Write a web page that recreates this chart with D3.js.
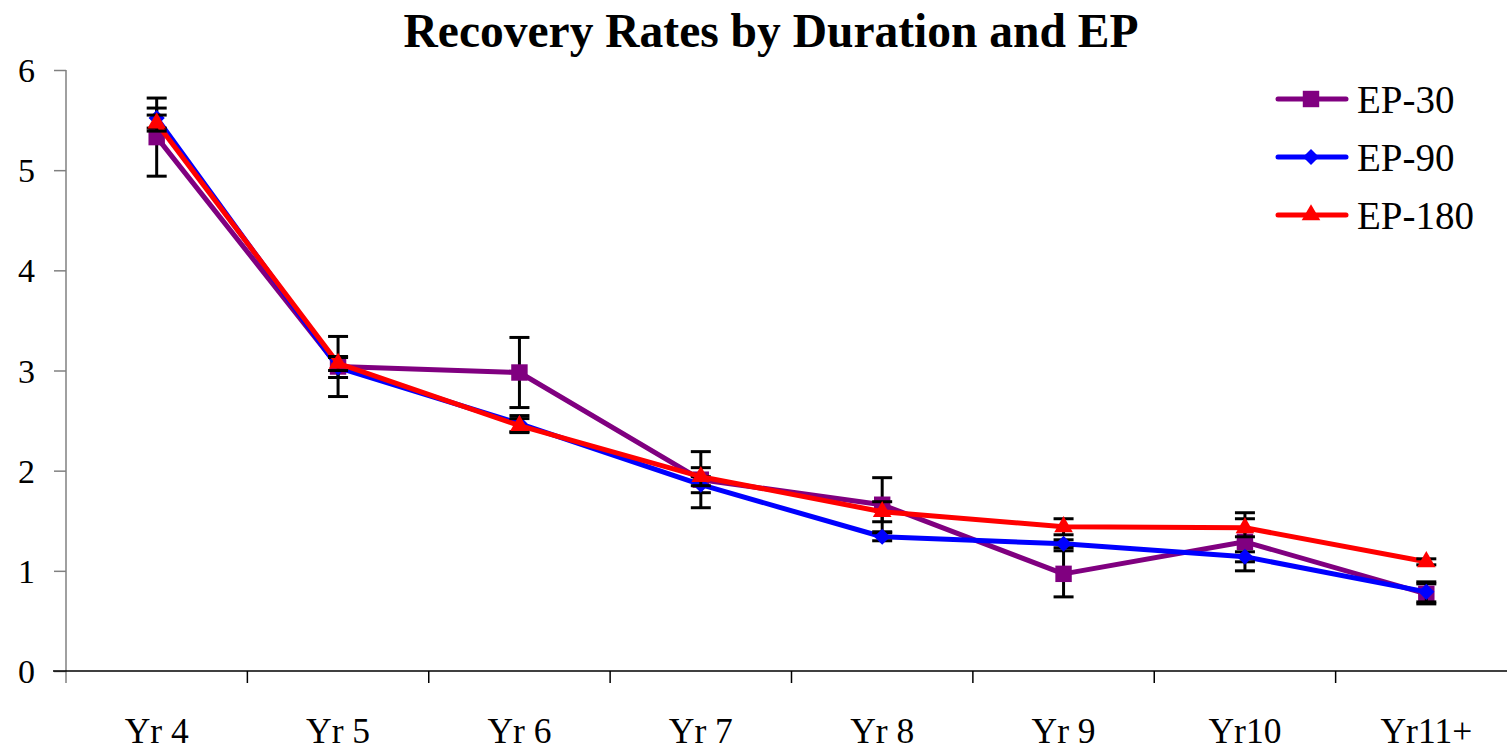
<!DOCTYPE html>
<html><head><meta charset="utf-8">
<script src="https://cdn.jsdelivr.net/npm/d3@7"></script>
<style>body{margin:0;background:#fff}svg{display:block}</style>
</head><body>
<svg id="chart" width="1507" height="752"></svg>
<script>
const categories = ["Yr 4","Yr 5","Yr 6","Yr 7","Yr 8","Yr 9","Yr10","Yr11+"];
const ep30  = [5.33, 3.04, 2.98, 1.91, 1.66, 0.97, 1.29, 0.77];
const ep30Err  = [0.39, 0.30, 0.35, 0.28, 0.27, 0.23, 0.29, 0.10];
const ep90  = [5.52, 3.03, 2.47, 1.86, 1.34, 1.27, 1.14, 0.79];
const ep90Err  = [0.10, 0.10, 0.08, 0.08, 0.04, 0.04, 0.05, 0.10];
const ep180 = [5.47, 3.07, 2.45, 1.94, 1.59, 1.44, 1.43, 1.09];
const ep180Err = [0.08, 0.07, 0.07, 0.09, 0.10, 0.08, 0.09, 0.03];
const yTicks = [0,1,2,3,4,5,6];
const seriesNames = ["EP-30","EP-90","EP-180"];
const seriesColors = ["#800080","#0000FF","#FF0000"];
const seriesSymbols = ["square","diamond","triangle"];

(function(){
const series = [
  {name: seriesNames[0], values: ep30, errs: ep30Err, color: seriesColors[0], sym: seriesSymbols[0]},
  {name: seriesNames[1], values: ep90, errs: ep90Err, color: seriesColors[1], sym: seriesSymbols[1]},
  {name: seriesNames[2], values: ep180, errs: ep180Err, color: seriesColors[2], sym: seriesSymbols[2]}
];

const svg = d3.select("#chart");
const mLeft = 66, mRight = 1517, mTop = 70, mBottom = 671;
const x = d3.scaleBand().domain(categories).range([mLeft, mRight]);
const y = d3.scaleLinear().domain([0,6]).range([mBottom, mTop]);
const font = "'Liberation Serif','Times New Roman',serif";

svg.append("text").attr("x", 771).attr("y", 47).attr("text-anchor","middle")
  .attr("font-family", font).attr("font-weight","bold").attr("font-size", 47.5)
  .text("Recovery Rates by Duration and EP");

const yAxis = svg.append("g").attr("transform", `translate(${mLeft},0)`)
  .call(d3.axisLeft(y).tickValues(yTicks).tickSize(12).tickPadding(19).tickFormat(d3.format("d")));
yAxis.select(".domain").attr("stroke","#808080").attr("stroke-width",1.5)
  .attr("d", `M0,${mTop}V${mBottom+12}`);
yAxis.selectAll(".tick line").attr("stroke","#808080").attr("stroke-width",1.5);
yAxis.selectAll(".tick text").attr("font-family", font).attr("font-size", 34).attr("fill","#000")
  .attr("dy","0.34em");

const xAxis = svg.append("g").attr("transform", `translate(0,${mBottom})`)
  .call(d3.axisBottom(x).tickSize(0).tickPadding(47));
xAxis.select(".domain").attr("stroke","#000").attr("stroke-width",1.5)
  .attr("d", `M${mLeft-13},0H${mRight}`);
xAxis.selectAll(".tick text").attr("font-family", font).attr("font-size", 35.5).attr("fill","#000")
  .attr("dy","0.71em");
const bounds = categories.slice(1).map(c => x(c));
svg.append("g").selectAll("line").data(bounds).join("line")
  .attr("x1", d => d).attr("x2", d => d).attr("y1", mBottom).attr("y2", mBottom + 12)
  .attr("stroke","#000").attr("stroke-width",1.5);

const cx = c => x(c) + x.bandwidth()/2;
const line = d3.line().x((d,i) => cx(categories[i])).y(d => y(d));

const diamondType = {
  draw(ctx, size) {
    const r = Math.sqrt(size / 2);
    ctx.moveTo(0, -r); ctx.lineTo(r, 0); ctx.lineTo(0, r); ctx.lineTo(-r, 0); ctx.closePath();
  }
};
function symPath(sym, size) {
  const t = sym === "square" ? d3.symbolSquare : sym === "diamond" ? diamondType : d3.symbolTriangle;
  return d3.symbol().type(t).size(size)();
}
const symSize = {square: 270, diamond: 130, triangle: 150};

series.forEach(s => {
  const g = svg.append("g");
  g.append("path").attr("d", line(s.values)).attr("fill","none")
    .attr("stroke", s.color).attr("stroke-width", 5).attr("stroke-linejoin","round");
  const eb = g.append("g");
  s.values.forEach((v,i) => {
    const px = cx(categories[i]);
    const e = s.errs[i];
    eb.append("line").attr("x1",px).attr("x2",px).attr("y1",y(v+e)).attr("y2",y(v-e))
      .attr("stroke","#000").attr("stroke-width",3);
    [v+e, v-e].forEach(w => {
      eb.append("line").attr("x1",px-10).attr("x2",px+10).attr("y1",y(w)).attr("y2",y(w))
        .attr("stroke","#000").attr("stroke-width",3);
    });
  });
  g.selectAll("path.m").data(s.values).join("path").attr("class","m")
    .attr("d", symPath(s.sym, symSize[s.sym]))
    .attr("transform", (d,i) => `translate(${cx(categories[i])},${y(d)})`)
    .attr("fill", s.color);
});

const leg = svg.append("g");
series.forEach((s,i) => {
  const ly = 99 + i*58;
  leg.append("line").attr("x1",1278).attr("x2",1346).attr("y1",ly).attr("y2",ly)
    .attr("stroke", s.color).attr("stroke-width",5).attr("stroke-linecap","round");
  leg.append("path").attr("d", symPath(s.sym, symSize[s.sym])).attr("transform",`translate(1311,${ly})`)
    .attr("fill", s.color);
  leg.append("text").attr("x",1357).attr("y",ly).attr("dy","0.35em")
    .attr("font-family", font).attr("font-size", 39).text(s.name);
});
})();
</script>
</body></html>
